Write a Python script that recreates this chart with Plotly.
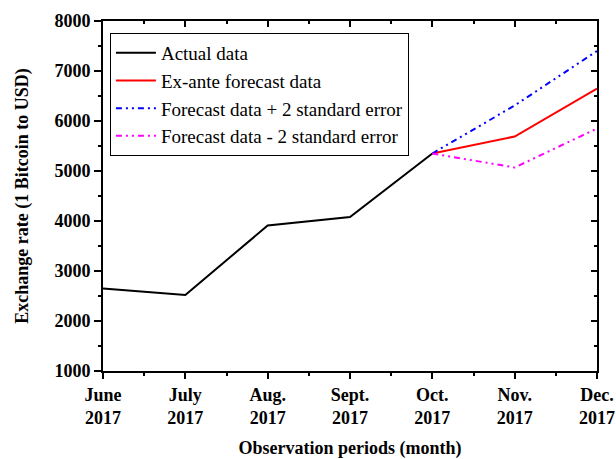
import plotly.graph_objects as go

months = ["June<br>2017", "July<br>2017", "Aug.<br>2017", "Sept.<br>2017",
          "Oct.<br>2017", "Nov.<br>2017", "Dec.<br>2017"]
yticks = [1000, 2000, 3000, 4000, 5000, 6000, 7000, 8000]
actual_x = [0, 1, 2, 3, 4]
actual = [2650, 2520, 3910, 4080, 5350]
fc_x = [4, 5, 6]
forecast = [5350, 5690, 6650]
upper = [5350, 6310, 7400]
lower = [5350, 5070, 5850]

FONT = "Liberation Serif"
fig = go.Figure()
fig.add_trace(go.Scatter(x=actual_x, y=actual, mode="lines", name="Actual data",
                         line=dict(color="black", width=2)))
fig.add_trace(go.Scatter(x=fc_x, y=forecast, mode="lines", name="Ex-ante forecast data",
                         line=dict(color="red", width=2)))
fig.add_trace(go.Scatter(x=fc_x, y=upper, mode="lines", name="Forecast data + 2 standard error",
                         line=dict(color="blue", width=2, dash="6px,4px,2px,4px,2px,4px")))
fig.add_trace(go.Scatter(x=fc_x, y=lower, mode="lines", name="Forecast data - 2 standard error",
                         line=dict(color="magenta", width=2, dash="6px,4px,2px,4px,2px,4px")))
# invisible trace to activate mirrored axes (top/right with inward ticks)
fig.add_trace(go.Scatter(x=[0], y=[1000], xaxis="x2", yaxis="y2", mode="lines",
                         showlegend=False, hoverinfo="skip", line=dict(width=0)))

tickfont = dict(family=FONT, size=18, color="black")
minor_x = [0.5, 1.5, 2.5, 3.5, 4.5, 5.5]
fig.update_layout(
    width=616, height=459,
    margin=dict(l=103, r=19, t=21, b=88),
    paper_bgcolor="white", plot_bgcolor="white",
    font=dict(family=FONT, color="black"),
    xaxis=dict(range=[0, 6], tickmode="array", tickvals=list(range(7)),
               ticktext=["<b>%s</b>" % m.replace("<br>", "</b><br><b>") for m in months],
               tickfont=tickfont, ticks="outside", ticklen=6, tickwidth=1.5, tickcolor="black",
               showline=True, linecolor="black", linewidth=2, showgrid=False, zeroline=False,
               automargin=False,
               minor=dict(tickmode="array", tickvals=minor_x,
                          ticks="outside", ticklen=3, tickwidth=1.5, tickcolor="black"),
               title=dict(text="<b>Observation periods (month)</b>",
                          font=dict(family=FONT, size=18), standoff=14)),
    yaxis=dict(range=[1000, 8000], tickmode="array", tickvals=yticks,
               ticktext=["<b>%d</b>" % v for v in yticks],
               tickfont=tickfont, ticks="outside", ticklen=7, tickwidth=1.5, tickcolor="black",
               showline=True, linecolor="black", linewidth=2, showgrid=False, zeroline=False,
               automargin=False,
               minor=dict(dtick=500, tick0=1000, ticks="outside", ticklen=3, tickwidth=1.5,
                          tickcolor="black"),
               title=dict(text="<b>Exchange rate (1 Bitcoin to USD)</b>",
                          font=dict(family=FONT, size=18), standoff=21)),
    xaxis2=dict(overlaying="x", side="top", matches="x", range=[0, 6], tickmode="array",
                tickvals=list(range(7)), showticklabels=False, ticks="inside", ticklen=6,
                tickwidth=1.5, tickcolor="black", showline=True, linecolor="black", linewidth=2,
                showgrid=False, zeroline=False, automargin=False,
                minor=dict(tickmode="array", tickvals=minor_x,
                           ticks="inside", ticklen=3, tickwidth=1.5, tickcolor="black")),
    yaxis2=dict(overlaying="y", side="right", matches="y", range=[1000, 8000], tickmode="array",
                tickvals=yticks, showticklabels=False, ticks="inside", ticklen=6,
                tickwidth=1.5, tickcolor="black", showline=True, linecolor="black", linewidth=2,
                showgrid=False, zeroline=False, automargin=False,
                minor=dict(dtick=500, tick0=1000, ticks="inside", ticklen=3, tickwidth=1.5,
                           tickcolor="black")),
    legend=dict(x=0.014, y=0.966, xanchor="left", yanchor="top",
                bordercolor="black", borderwidth=1, bgcolor="white", itemwidth=40,
                font=dict(family=FONT, size=19, color="black")),
    showlegend=True,
)
fig.write_html("out.html", config={"displayModeBar": False},
               post_script="document.body.style.margin='0';document.body.style.overflow='hidden';")
